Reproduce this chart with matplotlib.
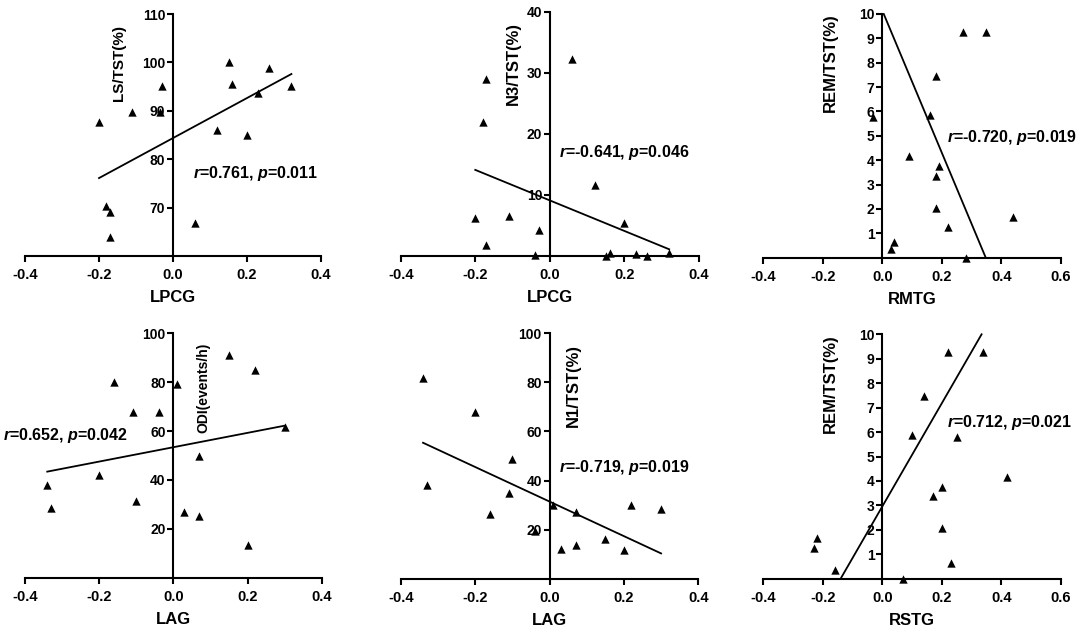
import matplotlib
matplotlib.use("Agg")
import matplotlib.pyplot as plt

plt.rcParams['font.family'] = ['Liberation Sans', 'DejaVu Sans']
plt.rcParams['font.weight'] = 'bold'
plt.rcParams['mathtext.fontset'] = 'custom'
plt.rcParams['mathtext.it'] = 'Liberation Sans:italic:bold'
plt.rcParams['mathtext.rm'] = 'Liberation Sans:bold'

# --- data ---
# A: LPCG vs LS/TST
lpcg_a = [-0.20, -0.11, -0.03, -0.035, -0.18, -0.17, -0.17, 0.06, 0.15, 0.16, 0.26, 0.23, 0.32, 0.12, 0.20]
ls_tst = [87.7, 89.8, 95.1, 89.8, 70.3, 69.1, 63.9, 66.9, 100.0, 95.5, 98.8, 93.7, 95.2, 86.0, 85.0]
fit_a_x = [-0.20, 0.32]
fit_a_y = [76.1, 97.6]

# B: LPCG vs N3/TST
lpcg_b = [0.06, -0.17, -0.18, -0.20, -0.11, -0.17, -0.03, -0.04, 0.12, 0.20, 0.15, 0.16, 0.23, 0.26, 0.32]
n3_tst = [32.2, 28.9, 21.9, 6.2, 6.6, 1.8, 4.3, 0.2, 11.7, 5.4, 0.0, 0.5, 0.3, 0.0, 0.5]
fit_b_x = [-0.20, 0.32]
fit_b_y = [14.1, 1.1]

# C: RMTG vs REM/TST
rmtg = [0.27, 0.35, 0.18, 0.16, -0.03, 0.09, 0.19, 0.18, 0.18, 0.22, 0.44, 0.04, 0.03, 0.28]
rem_c = [9.27, 9.27, 7.46, 5.85, 5.79, 4.17, 3.76, 3.35, 2.05, 1.27, 1.66, 0.66, 0.34, 0.0]
fit_c_x = [0.005, 0.348]
fit_c_y = [10.0, 0.0]

# D: LAG vs ODI
lag_d = [0.15, 0.22, -0.16, 0.01, -0.11, -0.04, 0.30, 0.07, -0.20, -0.34, -0.33, -0.10, 0.03, 0.07, 0.20]
odi = [91.2, 85.0, 80.1, 79.2, 68.0, 67.6, 61.5, 49.7, 42.0, 38.0, 28.7, 31.2, 26.8, 25.4, 13.2]
fit_d_x = [-0.34, 0.30]
fit_d_y = [43.4, 62.2]

# E: LAG vs N1/TST
lag_e = [-0.34, -0.20, -0.10, -0.33, -0.11, -0.16, 0.01, 0.07, 0.22, 0.30, -0.04, 0.03, 0.07, 0.15, 0.20]
n1_tst = [81.9, 67.9, 48.9, 38.2, 35.1, 26.2, 29.9, 27.3, 30.0, 28.3, 19.5, 12.2, 13.9, 16.3, 11.6]
fit_e_x = [-0.34, 0.30]
fit_e_y = [55.4, 10.3]

# F: RSTG vs REM/TST
rstg = [0.22, 0.34, 0.14, 0.10, 0.25, 0.42, 0.20, 0.17, 0.20, 0.23, -0.22, -0.23, -0.16, 0.07]
rem_f = [9.27, 9.27, 7.47, 5.87, 5.79, 4.16, 3.75, 3.37, 2.07, 0.66, 1.66, 1.27, 0.36, 0.0]
fit_f_x = [-0.14, 0.334]
fit_f_y = [0.0, 10.0]

W, H = 1084, 632
fig = plt.figure(figsize=(W / 100, H / 100), dpi=100)


def panel(px, x, y, fx, fy, xlim, xticks, ylim, yticks, xlabel, ylabel, ylab_pos, ylab_size,
          stat, stat_pos):
    l, r, t, b = px
    ax = fig.add_axes([l / W, (H - b) / H, (r - l) / W, (b - t) / H])
    ax.scatter(x, y, marker='^', s=36, color='black', linewidths=0, clip_on=False, zorder=1)
    ax.plot(fx, fy, color='black', lw=1.3, clip_on=False, zorder=2)
    ax.set_xlim(xlim)
    ax.set_ylim(ylim)
    ax.set_xticks(xticks)
    ax.set_xticklabels(['%.1f' % v for v in xticks], fontweight='bold', fontsize=10.5)
    ax.set_yticks(yticks)
    ax.set_yticklabels([str(v) for v in yticks], fontweight='bold', fontsize=10.5)
    ax.spines['top'].set_visible(False)
    ax.spines['right'].set_visible(False)
    ax.spines['left'].set_position(('data', 0))
    for s in ('left', 'bottom'):
        ax.spines[s].set_linewidth(1.5)
    ax.tick_params(axis='both', direction='out', length=4, width=1.5)
    ax.tick_params(axis='x', pad=4.5)
    ax.tick_params(axis='y', pad=1.5)
    ax.patch.set_visible(False)
    ax.set_xlabel(xlabel, fontsize=12, fontweight='bold', labelpad=6)
    ax.text(ylab_pos[0], ylab_pos[1], ylabel, rotation=90, ha='center', va='center',
            fontsize=ylab_size, fontweight='bold')
    ax.text(stat_pos[0], stat_pos[1], stat, ha='left', va='center', fontsize=11.5,
            fontweight='bold', clip_on=False)
    return ax


panel((25, 321, 14, 256), lpcg_a, ls_tst, fit_a_x, fit_a_y, (-0.4, 0.4), [-0.4, -0.2, 0.0, 0.2, 0.4],
      (60, 110), [70, 80, 90, 100, 110], 'LPCG', 'LS/TST(%)', (-0.147, 99.8), 11,
      r'$\mathit{r}$=0.761, $\mathit{p}$=0.011', (0.055, 77.0))
panel((400.7, 699, 11.7, 256), lpcg_b, n3_tst, fit_b_x, fit_b_y, (-0.4, 0.4), [-0.4, -0.2, 0.0, 0.2, 0.4],
      (0, 40), [10, 20, 30, 40], 'LPCG', 'N3/TST(%)', (-0.098, 31.5), 12,
      r'$\mathit{r}$=-0.641, $\mathit{p}$=0.046', (0.0255, 17.0))
panel((763.3, 1060.7, 14, 257.7), rmtg, rem_c, fit_c_x, fit_c_y, (-0.4, 0.6), [-0.4, -0.2, 0.0, 0.2, 0.4, 0.6],
      (0, 10), list(range(1, 11)), 'RMTG', 'REM/TST(%)', (-0.176, 8.0), 12,
      r'$\mathit{r}$=-0.720, $\mathit{p}$=0.019', (0.217, 4.94))
panel((25, 321.7, 333.3, 577.7), lag_d, odi, fit_d_x, fit_d_y, (-0.4, 0.4), [-0.4, -0.2, 0.0, 0.2, 0.4],
      (0, 100), [20, 40, 60, 80, 100], 'LAG', 'ODI(events/h)', (0.081, 77.8), 10,
      r'$\mathit{r}$=0.652, $\mathit{p}$=0.042', (-0.458, 58.1))
panel((400.7, 698.3, 333.3, 578.7), lag_e, n1_tst, fit_e_x, fit_e_y, (-0.4, 0.4), [-0.4, -0.2, 0.0, 0.2, 0.4],
      (0, 100), [20, 40, 60, 80, 100], 'LAG', 'N1/TST(%)', (0.064, 78.8), 12,
      r'$\mathit{r}$=-0.719, $\mathit{p}$=0.019', (0.0264, 45.2))
panel((763.3, 1060.7, 334.3, 578.7), rstg, rem_f, fit_f_x, fit_f_y, (-0.4, 0.6), [-0.4, -0.2, 0.0, 0.2, 0.4, 0.6],
      (0, 10), list(range(1, 11)), 'RSTG', 'REM/TST(%)', (-0.176, 8.0), 12,
      r'$\mathit{r}$=0.712, $\mathit{p}$=0.021', (0.217, 6.40))

fig.savefig('out.png', dpi=100)
